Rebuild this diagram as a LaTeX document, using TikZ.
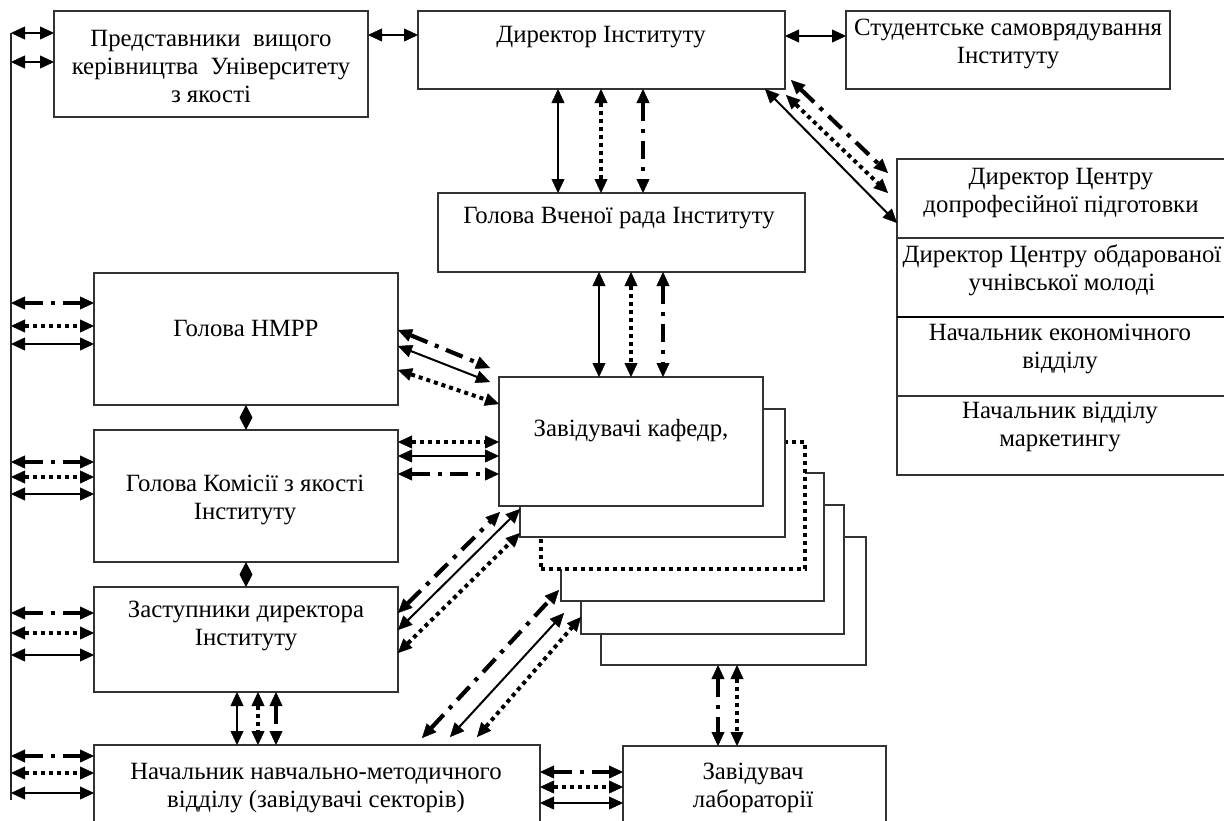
\documentclass[tikz,border=0pt]{standalone}
\usepackage{fontspec}
\setmainfont{Liberation Serif}
\usetikzlibrary{arrows.meta,calc,fit}
\begin{document}
\begin{tikzpicture}[x=1pt,y=-1pt,
  box/.style={draw=black!80,line width=1.3pt,fill=white,inner sep=0pt,outer sep=0pt},
  dotbox/.style={box,draw=black,line width=3.5pt,dash pattern=on 4pt off 4pt},
  txt/.style={align=center,inner sep=0pt,font=\fontsize{24.8}{28}\selectfont},
  dbl/.style={>={Triangle[length=14pt,width=13pt,line width=0.4pt]},<->},
  sol/.style={dbl,line width=2pt},
  dotl/.style={dbl,line width=4pt,dash pattern=on 4pt off 4pt},
  dashdot/.style={dbl,line width=4.2pt,dash pattern=on 18pt off 8pt on 4pt off 8pt},
]
\useasboundingbox (0,0) rectangle (1224,820);
\clip (0,0) rectangle (1224,820);
\fill[white] (0,0) rectangle (1224,820);

% boxes
\node[box,fit={(54,11)(368,117)}] (P) {};
\node[box,fit={(418,11)(785,89)}] (D) {};
\node[box,fit={(846,11)(1170,89)}] (S) {};
\node[box,fit={(438,193)(805,272)}] (HV) {};
\node[box,fit={(897,159)(1230,238)}] (R1) {};
\node[box,fit={(897,238)(1230,317)}] (R2) {};
\node[box,fit={(897,317)(1230,396)}] (R3) {};
\node[box,fit={(897,396)(1230,475)}] (R4) {};
\draw[line width=2.6pt] (R3.north west) -- (R3.north east);
\node[box,fit={(94,273)(398,405)}] (H1) {};
\node[box,fit={(94,430)(398,562)}] (H2) {};
\node[box,fit={(94,587)(398,692)}] (Z) {};
\node[box,fit={(94,745)(540,840)}] (N) {};
\node[box,fit={(623,746)(886,840)}] (L) {};

% stack of departments
\node[box,fit={(601,537)(866,665)}] (K6) {};
\node[box,fit={(581,505)(844,634)}] (K5) {};
\node[box,fit={(561,473)(824,601)}] (K4) {};
\node[dotbox,fit={(541,442)(805,569)}] (K3) {};
\node[box,fit={(520,409)(785,537)}] (K2) {};
\node[box,fit={(499,377)(763,506)}] (K1) {};

% diamonds
\fill (H1.south) -- ++(6.5,12.5) -- (H2.north) -- ++(-6.5,-12.5) -- cycle;
\fill (H2.south) -- ++(6.5,12.5) -- (Z.north) -- ++(-6.5,-12.5) -- cycle;

% texts
\node[txt] (Pt) at (211,66) {Представники~ вищого\\керівництва~ Університету\\з якості};
\node[txt] (Dt) at (601,37) {Директор Інституту};
\node[txt] (St) at (1008,44) {Студентське самоврядування\\Інституту};
\node[txt] (HVt) at (619,218) {Голова Вченої рада Інституту};
\node[txt] (R1t) at (1061,193) {Директор Центру\\допрофесійної підготовки};
\node[txt] (R2t) at (1062,270) {Директор Центру обдарованої\\учнівської молоді};
\node[txt] (R3t) at (1060,349) {Начальник економічного\\відділу};
\node[txt] (R4t) at (1060,427) {Начальник відділу\\маркетингу};
\node[txt] (H1t) at (246,328) {Голова НМРР};
\node[txt] (H2t) at (245,500) {Голова Комісії з якості\\Інституту};
\node[txt] (Zt) at (246,626) {Заступники директора\\Інституту};
\node[txt] (K1t) at (631,431) {Завідувачі кафедр,};
\node[txt] (Nt) at (316,788) {Начальник навчально-методичного\\відділу (завідувачі секторів)};
\node[txt] (Lt) at (753,788) {Завідувач\\лабораторії};

% left bus
\coordinate (busT) at (11,33);
\coordinate (busB) at (11,800);
\draw[line width=1.3pt,black!85] (busT) -- (busB);

% top row
\draw[sol] (busT |- 0,33) -- (P.west |- 0,33);
\draw[sol] (busT |- 0,62) -- (P.west |- 0,62);
\draw[sol] (P.east |- 0,35) -- (D.west |- 0,35);
\draw[sol] (D.east |- 0,36) -- (S.west |- 0,36);

% D - HV
\draw[sol] (D.south -| 558,0) -- (HV.north -| 558,0);
\draw[dotl] (D.south -| 601,0) -- (HV.north -| 601,0);
\draw[dashdot] (D.south -| 643,0) -- (HV.north -| 643,0);

% HV - K1
\draw[sol] (HV.south -| 599,0) -- (K1.north -| 599,0);
\draw[dotl] (HV.south -| 631,0) -- (K1.north -| 631,0);
\draw[dashdot] (HV.south -| 663,0) -- (K1.north -| 663,0);

% D - R1
\draw[sol] ($(D.south east)+(-20,0)$) -- (R1.west |- 0,223);
\draw[dotl] ($(D.south east)+(1,6)$) -- ($(R1.west)+(-9,-5.5)$);
\draw[dashdot] ($(D.south east)+(6,-9)$) -- ($(R1.west)+(-9,-25.5)$);

% H1 - K1
\draw[dashdot] (H1.east |- 0,330) -- ($(K1.north west)+(-9,-9)$);
\draw[sol] (H1.east |- 0,346) -- ($(K1.north west)+(-9,5)$);
\draw[dotl] (H1.east |- 0,370) -- (K1.west |- 0,404);

% H2 - K1
\draw[dotl] (H2.east |- 0,442) -- (K1.west |- 0,442);
\draw[sol] (H2.east |- 0,456) -- (K1.west |- 0,456);
\draw[dashdot] (H2.east |- 0,474) -- (K1.west |- 0,474);

% Z - K
\draw[dashdot] (Z.east |- 0,613) -- ($(K1.south west)+(1,6)$);
\draw[sol] (Z.east |- 0,630) -- (K2.west |- 0,509);
\draw[dotl] (Z.east |- 0,653) -- (K2.west |- 0,533);

% N - K
\draw[dashdot] ($(N.north west)+(328,-7)$) -- ($(K4.south west)+(-2,-11)$);
\draw[sol] ($(N.north west)+(356,-8)$) -- ($(K4.south west)+(3,12)$);
\draw[dotl] ($(N.north west)+(383,-8)$) -- (K5.west |- 0,617);

% Z - N
\draw[sol] (Z.south -| 237,0) -- (N.north -| 237,0);
\draw[dotl] (Z.south -| 258,0) -- (N.north -| 258,0);
\draw[dashdot] (Z.south -| 276,0) -- (N.north -| 276,0);

% bus - left boxes
\draw[dashdot] (busT |- 0,303) -- (H1.west |- 0,303);
\draw[dotl] (busT |- 0,326) -- (H1.west |- 0,326);
\draw[sol] (busT |- 0,344) -- (H1.west |- 0,344);
\draw[dashdot] (busT |- 0,462) -- (H2.west |- 0,462);
\draw[dotl] (busT |- 0,477) -- (H2.west |- 0,477);
\draw[sol] (busT |- 0,494) -- (H2.west |- 0,494);
\draw[dashdot] (busT |- 0,613) -- (Z.west |- 0,613);
\draw[dotl] (busT |- 0,633) -- (Z.west |- 0,633);
\draw[sol] (busT |- 0,655) -- (Z.west |- 0,655);
\draw[dashdot] (busT |- 0,756) -- (N.west |- 0,756);
\draw[dotl] (busT |- 0,773) -- (N.west |- 0,773);
\draw[sol] (busT |- 0,793) -- (N.west |- 0,793);

% N - L
\draw[dashdot] (N.east |- 0,772) -- (L.west |- 0,772);
\draw[dotl] (N.east |- 0,787) -- (L.west |- 0,787);
\draw[sol] (N.east |- 0,803) -- (L.west |- 0,803);

% K6 - L
\draw[dashdot] (K6.south -| 718,0) -- (L.north -| 718,0);
\draw[dotl] (K6.south -| 737,0) -- (L.north -| 737,0);
\end{tikzpicture}
\end{document}
